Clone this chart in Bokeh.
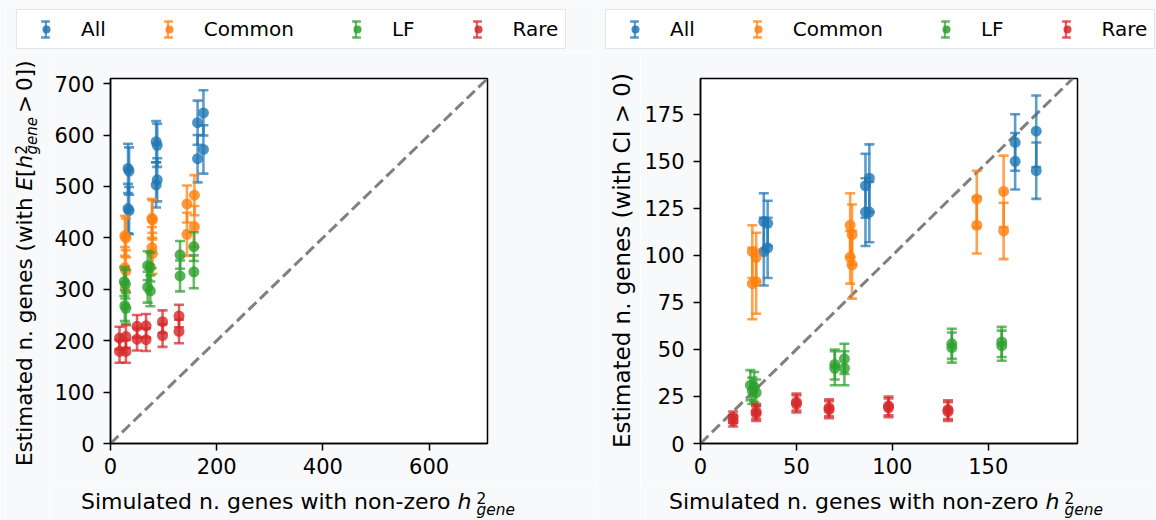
import math
from bokeh.plotting import figure
from bokeh.models import (Range1d, Label, Legend, LegendItem, FixedTicker,
                          ColumnDataSource, Slope)
from bokeh.layouts import row, column
from bokeh.embed import file_html
from bokeh.resources import INLINE

# ---------------- data ----------------
categories = ["All", "Common", "LF", "Rare"]
colors = ["#1f77b4", "#ff7f0e", "#2ca02c", "#d62728"]

# simulated number of genes with non-zero h2 (x, shared by both panels)
x_all = [33, 33, 35, 35, 86, 86, 88, 88, 164, 164, 175, 175]
x_common = [27, 27, 29, 29, 78, 78, 79, 79, 144, 144, 158, 158]
x_lf = [26, 27, 28, 29, 70, 70, 75, 75, 131, 131, 157, 157]
x_rare = [17, 17, 29, 29, 50, 50, 67, 67, 98, 98, 129, 129]

# left panel: estimated n. genes with E[h2] > 0
ye_all = [535, 457, 530, 453, 587, 503, 580, 513, 624, 554, 643, 572]
ee_all = [48, 48, 46, 46, 40, 44, 42, 42, 43, 46, 44, 47]
ye_common = [404, 342, 400, 336, 438, 381, 435, 370, 466, 407, 483, 422]
ee_common = [39, 40, 38, 40, 38, 40, 38, 40, 36, 42, 39, 40]
ye_lf = [315, 268, 310, 263, 346, 304, 343, 297, 367, 326, 383, 334]
ee_lf = [28, 30, 28, 30, 28, 30, 28, 30, 27, 30, 28, 32]
ye_rare = [205, 179, 208, 179, 228, 203, 229, 202, 237, 210, 248, 218]
ee_rare = [22, 22, 22, 22, 22, 22, 23, 22, 22, 22, 22, 23]

# right panel: estimated n. genes with CI > 0
yc_all = [118, 102, 117, 104, 137, 123, 141, 123, 160, 150, 166, 145]
ec_all = [15, 18, 12, 16, 17, 18, 18, 16, 15, 15, 19, 15]
yc_common = [102, 85, 99, 86, 116, 99, 111, 95, 130, 116, 134, 113]
ec_common = [14, 19, 13, 17, 17, 14, 16, 18, 15, 15, 19, 15]
yc_lf = [31, 28, 30, 27, 42, 40, 45, 40, 53, 51, 54, 52]
ec_lf = [8, 7, 8, 7, 8, 9, 8, 9, 8, 8, 8, 8]
yc_rare = [14, 12, 17, 16, 22, 21, 19, 18, 20, 19, 18, 17]
ec_rare = [3, 3, 4, 4, 4.5, 4.5, 4.5, 4.5, 5, 5, 5, 5]

left_xticks = [0, 200, 400, 600]
left_yticks = [0, 100, 200, 300, 400, 500, 600, 700]
right_xticks = [0, 50, 100, 150]
right_yticks = [0, 25, 50, 75, 100, 125, 150, 175]

xs_list = [x_all, x_common, x_lf, x_rare]
left_series = [(ye_all, ee_all), (ye_common, ee_common), (ye_lf, ee_lf), (ye_rare, ee_rare)]
right_series = [(yc_all, ec_all), (yc_common, ec_common), (yc_lf, ec_lf), (yc_rare, ec_rare)]

# ---------------- style ----------------
FONT = "DejaVu Sans"
BG = "#f8f9fb"
A = math.pi / 2
EB_ALPHA = 0.72
EB_WIDTH = 2.6


def aux_fig(width, height):
    """Borderless canvas that only carries text / legend annotations."""
    f = figure(width=width, height=height, output_backend="svg", toolbar_location=None,
               x_range=Range1d(0, 1), y_range=Range1d(0, 1), min_border=0,
               x_axis_type=None, y_axis_type=None)
    f.outline_line_color = None
    f.background_fill_color = BG
    f.border_fill_color = BG
    return f


def main_fig(width, xmax, ymax, xticks, yticks):
    p = figure(width=width, height=431, output_backend="svg", toolbar_location=None,
               x_range=Range1d(0, xmax), y_range=Range1d(0, ymax),
               min_border_left=60, min_border_right=width - 60 - 377,
               min_border_top=26, min_border_bottom=40)
    p.background_fill_color = "white"
    p.border_fill_color = BG
    p.outline_line_color = "black"
    p.outline_line_width = 1.5
    p.grid.visible = False
    for ax, ticks in ((p.xaxis, xticks), (p.yaxis, yticks)):
        ax.ticker = FixedTicker(ticks=ticks)
        ax.minor_tick_line_color = None
        ax.major_tick_in = 0
        ax.major_tick_out = 7
        ax.major_tick_line_width = 1.5
        ax.major_tick_line_color = "black"
        ax.axis_line_width = 1.5
        ax.axis_line_color = "black"
        ax.major_label_text_font = FONT
        ax.major_label_text_font_size = "21px"
        ax.major_label_text_color = "black"
        ax.axis_label = None
    p.xaxis.major_label_standoff = 7
    p.yaxis.major_label_standoff = 9
    p.add_layout(Slope(gradient=1, y_intercept=0, line_color="#808080", line_width=3,
                       line_dash="11 5", level="underlay"))
    return p


def draw(p, xs, ys, errs, color):
    lo = [y - e for y, e in zip(ys, errs)]
    hi = [y + e for y, e in zip(ys, errs)]
    src = ColumnDataSource(dict(x=xs, y=ys, lo=lo, hi=hi))
    p.segment(x0="x", y0="lo", x1="x", y1="hi", source=src, line_color=color,
              line_width=EB_WIDTH, line_alpha=EB_ALPHA)
    for col in ("lo", "hi"):
        p.scatter(x="x", y=col, marker="dash", size=10, source=src, line_color=color,
                  line_width=EB_WIDTH, line_alpha=EB_ALPHA)
    p.scatter(x="x", y="y", marker="circle", size=11, source=src, fill_color=color,
              fill_alpha=0.8, line_color=None)


def mini_legend(f, renderer, x, y, w, h):
    """A label-less, frameless legend that only paints one swatch."""
    f.add_layout(Legend(items=[LegendItem(label=" ", renderers=[renderer])],
                        location=(int(round(x)), int(round(y))), padding=0, margin=0,
                        spacing=0, glyph_width=w, glyph_height=h, label_width=0,
                        label_height=h, label_standoff=0, label_text_font_size="1px",
                        background_fill_alpha=0, border_line_color=None))


def legend_fig(width, left_px, series):
    f = aux_fig(width, 52)
    items, bars, caps = [], [], []
    for c, col, xs, (ys, _) in zip(categories, colors, xs_list, series):
        # same series, outside this strip's range: only the legend swatches show
        bars.append(f.vbar(x=xs, bottom=ys, top=ys, width=0.01, fill_color=col,
                           fill_alpha=EB_ALPHA, line_color=None))
        caps.append(f.scatter(x=xs, y=ys, marker="dash", size=9, line_color=col,
                              line_width=EB_WIDTH, line_alpha=EB_ALPHA))
        r = f.scatter(x=xs, y=ys, marker="circle", size=11, fill_color=col,
                      fill_alpha=0.85, line_color=None)
        items.append(LegendItem(label=c, renderers=[r]))
    lg = Legend(items=items, orientation="horizontal", location=(left_px, 3),
                padding=7, margin=0, spacing=41, glyph_width=44, glyph_height=20,
                label_standoff=13, label_height=20,
                label_text_font=FONT, label_text_font_size="20px",
                label_text_color="black",
                background_fill_color="white", background_fill_alpha=1.0,
                border_line_color="#cccccc", border_line_width=1.5)
    f.add_layout(lg)
    # approximate label widths (20px DejaVu Sans), used only to place the error-bar swatches
    label_w = [24.8, 90.1, 22.6, 46.7]
    cx = left_px + 7 + 22
    cy = 23
    for i in range(len(categories)):
        mini_legend(f, bars[i], cx - 1.5, cy - 10, 3, 20)
        mini_legend(f, caps[i], cx - 11, cy + 8 - 11, 22, 22)
        mini_legend(f, caps[i], cx - 11, cy - 8 - 11, 22, 22)
        cx += 98 + label_w[i]
    return f


def lab(f, x, y, text, size=22, style="normal", angle=0.0, align="left"):
    f.add_layout(Label(x=x, y=y, x_units="screen", y_units="screen", text=text,
                       text_font=FONT, text_font_size=f"{size}px", text_font_style=style,
                       text_color="black", angle=angle, text_align=align,
                       text_baseline="alphabetic"))


def xlabel_fig(width, h_at):
    f = aux_fig(width, 37)
    lab(f, h_at - 7, 19, "Simulated n. genes with non-zero", align="right")
    lab(f, h_at, 19, "h", style="italic")
    lab(f, h_at + 19, 23, "2", size=15.4)
    lab(f, h_at + 19, 11, "gene", size=15.4, style="italic")
    return f


# ---------------- left panel ----------------
p1 = main_fig(545, 710, 710, left_xticks, left_yticks)
for xs, (ys, es), c in zip(xs_list, left_series, colors):
    draw(p1, xs, ys, es, c)

yl1 = aux_fig(50, 468)
bx = 24.2
F = 21.5
lab(yl1, bx, 54.5, "Estimated n. genes (with", size=F, angle=A)
lab(yl1, bx, 329.9, "E", size=F, style="italic", angle=A)
lab(yl1, bx, 343.5, "[", size=F, angle=A)
lab(yl1, bx, 351.9, "h", size=F, style="italic", angle=A)
lab(yl1, 20.0, 366.0, "2", size=15, angle=A)
lab(yl1, 31.5, 366.0, "gene", size=15, style="italic", angle=A)
lab(yl1, bx, 407.6, ">", size=F, angle=A)
lab(yl1, bx, 429.6, "0])", size=F, angle=A)

left_panel = column(legend_fig(595, 16, left_series),
                    row(yl1, column(row(p1), xlabel_fig(545, 407))))

# ---------------- right panel ----------------
p2 = main_fig(516, 196.5, 194, right_xticks, right_yticks)
for xs, (ys, es), c in zip(xs_list, right_series, colors):
    draw(p2, xs, ys, es, c)

yl2 = aux_fig(45, 468)
lab(yl2, 26.6, 260, "Estimated n. genes (with CI > 0)", size=23, angle=A, align="center")

right_panel = column(legend_fig(561, 10, right_series),
                     row(yl2, column(row(p2), xlabel_fig(516, 405))))

layout = row(left_panel, right_panel)
open("out.html", "w").write(file_html(layout, INLINE))
